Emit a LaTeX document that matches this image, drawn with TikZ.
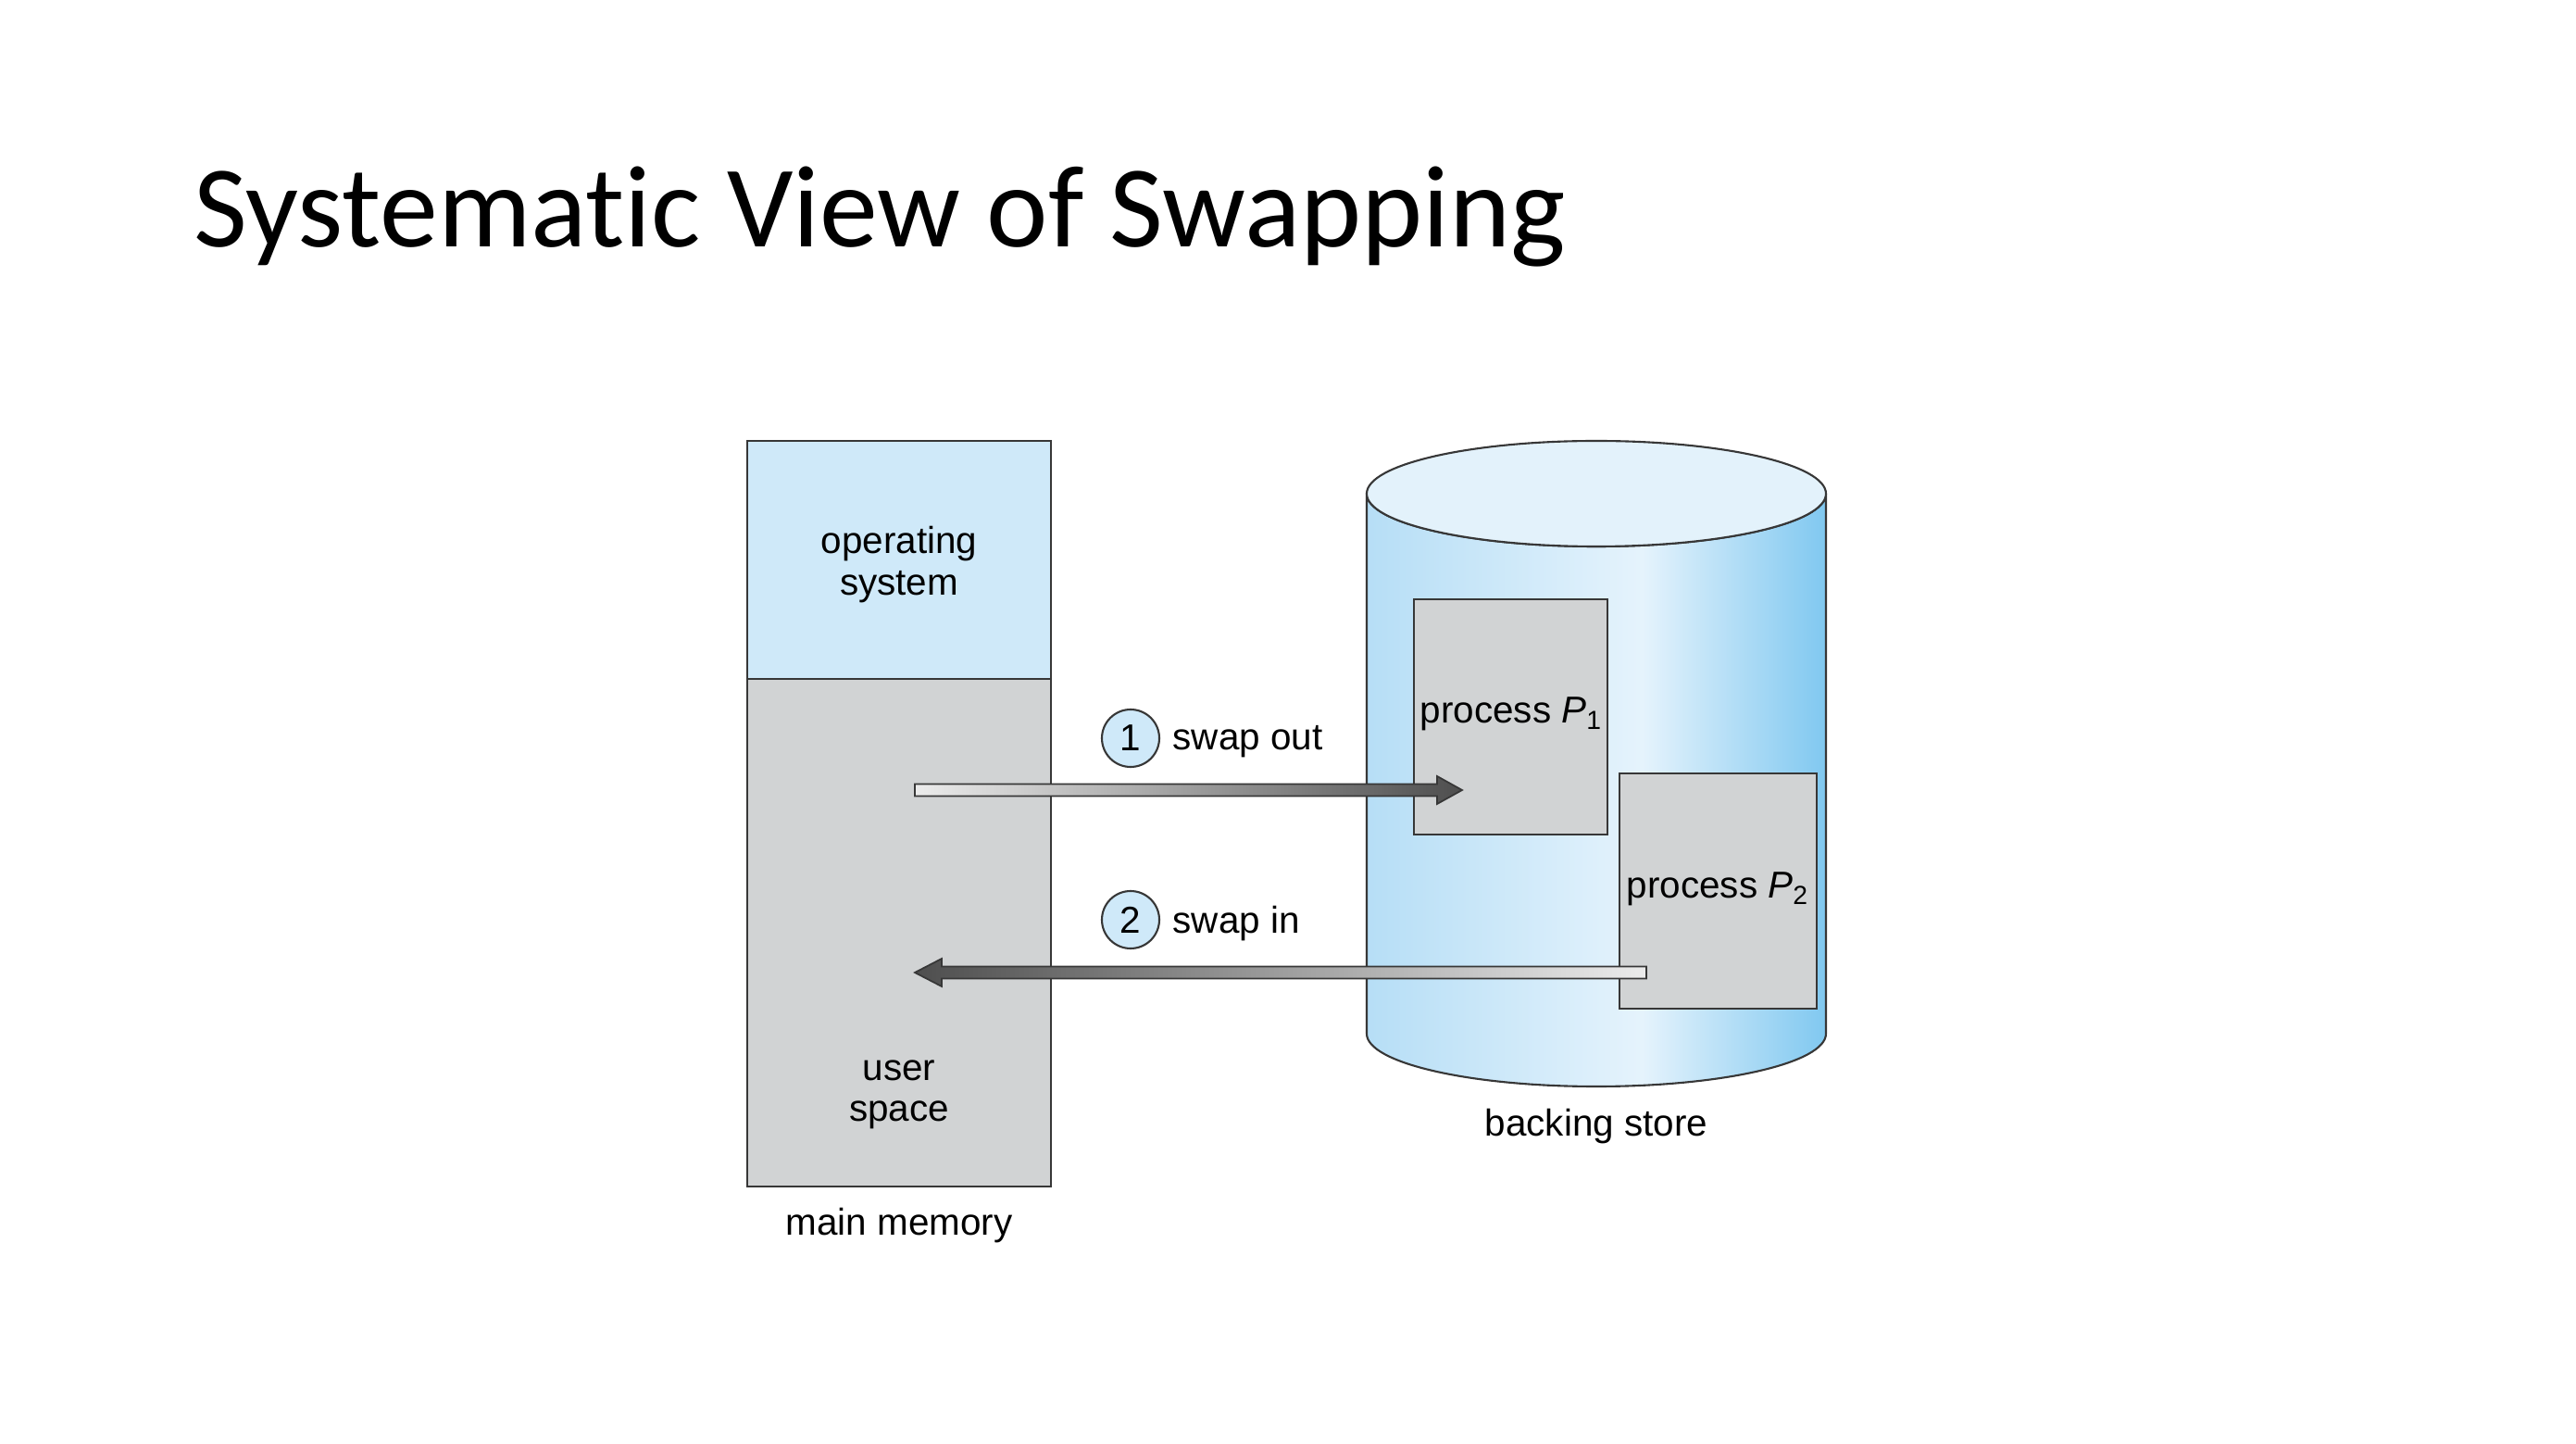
\documentclass[tikz,border=0pt]{standalone}
\usepackage{fontspec}
\setmainfont{Liberation Sans}
\newfontfamily\titlefont[Ligatures={NoCommon,NoRare}]{Carlito}
\usepackage{tikz}
\usetikzlibrary{arrows.meta, positioning, calc}

\definecolor{osblue}{RGB}{207,233,249}
\definecolor{memgray}{RGB}{209,211,212}
\definecolor{linegray}{RGB}{55,55,55}
\definecolor{cylL}{RGB}{182,222,246}
\definecolor{cylM}{RGB}{229,243,252}
\definecolor{cylR}{RGB}{128,200,240}
\definecolor{cyltop}{RGB}{227,242,251}
\definecolor{arrowlight}{RGB}{236,236,236}
\definecolor{arrowdark}{RGB}{78,78,78}
\pgfdeclarehorizontalshading{cylshade}{100bp}{color(0bp)=(cylL); color(25bp)=(cylL); color(55bp)=(cylM); color(75bp)=(cylR); color(100bp)=(cylR)}

\begin{document}
\begin{tikzpicture}[
    lbl/.style={font=\fontsize{11.5}{12.6}\selectfont, align=center, inner sep=0pt},
    membox/.style={draw=linegray, line width=0.6pt, minimum width=3.28cm, anchor=north, inner sep=0pt, outer sep=0pt},
    procbox/.style={draw=linegray, line width=0.6pt, fill=memgray, minimum height=2.54cm, anchor=north west, inner sep=0pt},
    stepnum/.style={circle, draw=linegray, line width=0.6pt, fill=osblue, minimum size=0.62cm, inner sep=0pt, font=\fontsize{11.5}{12.6}\selectfont},
    fatarrow/.style={draw=linegray, line width=0.5pt}
  ]
  \useasboundingbox (0,0) rectangle (27.82,15.58);

  % title
  \node[anchor=base west, inner sep=0pt, font=\titlefont\fontsize{35.8}{40}\selectfont] (title) at (2.09,12.91) {Systematic View of Swapping};

  % main memory
  \node[membox, fill=osblue, minimum height=2.57cm] (os) at (9.71,10.82) {};
  \node[lbl] (oslbl) at ([yshift=-0.05cm]os.center) {operating\\system};
  \node[membox, fill=memgray, minimum height=5.48cm] (user) at (os.south) {};
  \node[lbl] (userlbl) at ([yshift=0.99cm]user.south) {user\\space};
  \node[lbl] (memlbl) at ([yshift=-0.42cm]user.south) {main memory};

  % backing store
  \shade[shading=cylshade, draw=linegray, line width=0.6pt] (14.76,10.25) -- (14.76,4.42)
    arc[start angle=180, end angle=360, x radius=2.48cm, y radius=0.57cm] -- (19.72,10.25)
    arc[start angle=0, end angle=-180, x radius=2.48cm, y radius=0.57cm] -- cycle;
  \filldraw[fill=cyltop, draw=linegray, line width=0.6pt] (17.24,10.25) ellipse [x radius=2.48cm, y radius=0.57cm];
  \node[lbl] (storelbl) at (17.24,3.42) {backing store};

  \node[procbox, minimum width=2.09cm] (proc1) at (15.26,9.12) {};
  \node[lbl, anchor=west] (proc1lbl) at ([xshift=0.07cm, yshift=-1.25cm]proc1.north west) {process \textit{P}\textsubscript{1}};
  \node[procbox, minimum width=2.13cm] (proc2) at (17.48,7.24) {};
  \node[lbl, anchor=west] (proc2lbl) at ([xshift=0.08cm, yshift=-1.26cm]proc2.north west) {process \textit{P}\textsubscript{2}};

  % swap arrows
  \coordinate (outfrom) at (9.88,7.05);
  \coordinate (outto) at (15.79,7.05);
  \shade[fatarrow, left color=arrowlight, right color=arrowdark]
    ($(outfrom)+(0,0.065)$) -- ($(outto)+(-0.27,0.065)$) -- ($(outto)+(-0.27,0.15)$) -- (outto)
    -- ($(outto)+(-0.27,-0.15)$) -- ($(outto)+(-0.27,-0.065)$) -- ($(outfrom)+(0,-0.065)$) -- cycle;
  \coordinate (infrom) at (17.78,5.08);
  \coordinate (into) at (9.88,5.08);
  \shade[fatarrow, left color=arrowdark, right color=arrowlight]
    ($(infrom)+(0,0.065)$) -- ($(into)+(0.29,0.065)$) -- ($(into)+(0.29,0.15)$) -- (into)
    -- ($(into)+(0.29,-0.15)$) -- ($(into)+(0.29,-0.065)$) -- ($(infrom)+(0,-0.065)$) -- cycle;

  \node[stepnum] (one) at (12.21,7.61) {1};
  \node[lbl, anchor=west] (outlbl) at ([xshift=0.13cm, yshift=-0.04cm]one.east) {swap out};
  \node[stepnum] (two) at (12.21,5.65) {2};
  \node[lbl, anchor=west] (inlbl) at ([xshift=0.13cm, yshift=-0.04cm]two.east) {swap in};
\end{tikzpicture}
\end{document}
